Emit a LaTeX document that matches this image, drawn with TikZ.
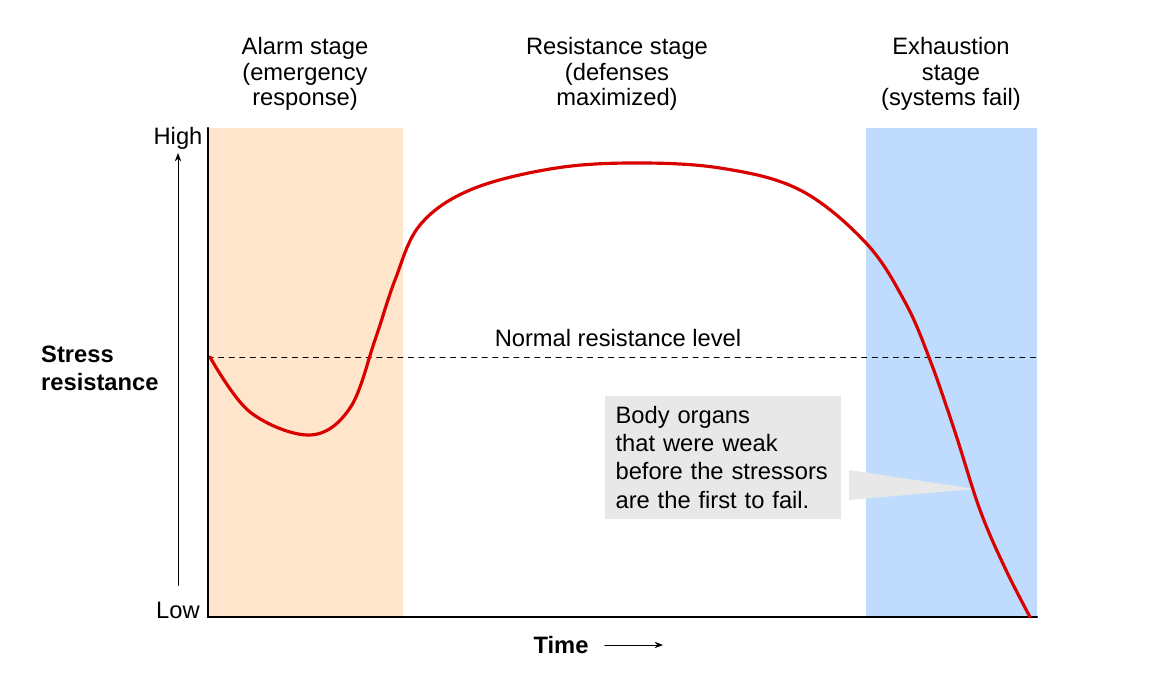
\documentclass[tikz,border=0pt]{standalone}
\usepackage{fontspec}
\setmainfont{Liberation Sans}
\usetikzlibrary{arrows.meta}
\begin{document}
\begin{tikzpicture}[x=0.02cm,y=-0.02cm,>=Stealth,line cap=round,
  stage text/.style={align=center,font=\fontsize{13.5}{14.5}\selectfont},
  axis text/.style={font=\fontsize{13.5}{16}\selectfont},
  important line/.style={line width=1.8pt}]
 \colorlet{alarmcolor}{orange!20!white}
 \colorlet{exhaustcolor}{blue!55!cyan!25!white}
 \colorlet{curvecolor}{red!85!black}
 \colorlet{notecolor}{black!9}

 \useasboundingbox (0,0) rectangle (1150,676);

 % stage bands
 \fill[alarmcolor] (208,128) rectangle (403,617);
 \fill[exhaustcolor] (866,128) rectangle (1037,617);

 % axes
 \coordinate (origin) at (208,617);
 \draw[line width=1.3pt] (208,128) -- (origin) -- (1037,617);

 % normal level
 \draw[dashed,thin] (208,357) -- (1037,357);
 \node[axis text] (normal) at (618,338) {Normal resistance level};

 % callout
 \coordinate (tip) at (975,489);
 \fill[notecolor] (849,470) -- (tip) -- (849,500) -- cycle;
 \node[fill=notecolor,minimum width=245\pgflinewidth,text width=4.3cm,align=left,
   inner sep=1.1ex,axis text,anchor=north west] (note) at (605,396)
   {Body organs\\that were weak\\before the stressors\\are the first to fail.};

 % curve
 \draw[important line,curvecolor] plot[smooth,tension=0.6] coordinates {
   (210,357) (250,412) (310,435) (350,408) (375,340) (395,280) (420,225)
   (470,190) (550,169) (630,163) (720,168) (800,190) (866,243) (905,302)
   (930,360) (955,432) (980,510) (1005,568) (1030,617)};

 % vertical axis label
 \node[axis text] (high) at (178,138) {High};
 \node[axis text] (low) at (178,610) {Low};
 \draw[->,thin] (low.north) ++(0,-10) coordinate (up start) -- (178,153) coordinate (up end);
 \node[axis text,font=\fontsize{13.5}{16}\selectfont\bfseries,align=left,anchor=west] (stress) at (35,368) {Stress\\resistance};

 % time axis
 \node[axis text,font=\fontsize{13.5}{16}\selectfont\bfseries] (time) at (561,645) {Time};
 \draw[->,thin] (time.east) ++(10,0) coordinate (t start) -- (663,645) coordinate (t end);

 % stage titles
 \node[stage text] (alarm) at (305,74) {Alarm stage\\(emergency\\response)};
 \node[stage text] (resist) at (617,74) {Resistance stage\\(defenses\\maximized)};
 \node[stage text] (exhaust) at (951,74) {Exhaustion\\stage\\(systems fail)};
\end{tikzpicture}
\end{document}
